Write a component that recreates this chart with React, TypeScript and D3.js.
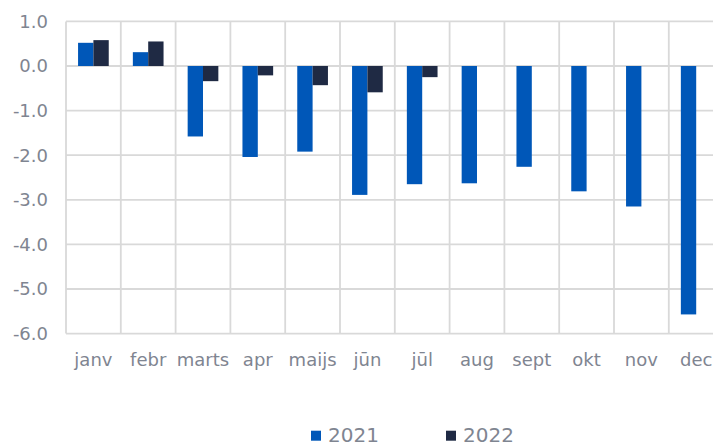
import * as d3 from "d3";

const months = ["janv", "febr", "marts", "apr", "maijs", "jūn", "jūl", "aug", "sept", "okt", "nov", "dec"];
const years = ["2021", "2022"];
const values2021 = [0.52, 0.31, -1.58, -2.04, -1.92, -2.89, -2.65, -2.63, -2.26, -2.81, -3.15, -5.57];
const values2022: (number | null)[] = [0.58, 0.55, -0.34, -0.21, -0.43, -0.59, -0.25, null, null, null, null, null];
const yTicks = [1, 0, -1, -2, -3, -4, -5, -6];

const COLORS: Record<string, string> = { "2021": "#0057b8", "2022": "#1f2a44" };
const TEXT = "#7f8591";
const GRID = "#d9d9d9";
const FONT = "'DejaVu Sans', Verdana, sans-serif";

const W = 713;
const H = 446;
const PLOT = { left: 66, top: 21.4, bottom: 333.6, band: 54.8 };

export default function App() {
  const x = d3
    .scaleBand<string>()
    .domain(months)
    .range([PLOT.left, PLOT.left + PLOT.band * months.length]);

  // the two bars of a month take ~56% of its band, centred
  const groupW = x.bandwidth() * 0.56;
  const xSub = d3
    .scaleBand<string>()
    .domain(years)
    .range([(x.bandwidth() - groupW) / 2, (x.bandwidth() + groupW) / 2]);

  const y = d3.scaleLinear().domain([-6, 1]).range([PLOT.bottom, PLOT.top]);

  const rows = months.map((m, i) => ({ m, v: { "2021": values2021[i], "2022": values2022[i] } as Record<string, number | null> }));

  return (
    <svg width={W} height={H} style={{ position: "absolute", left: 0, top: 0 }} fontFamily={FONT}>
      {/* grid */}
      {yTicks.map((t) => (
        <line key={"h" + t} x1={PLOT.left} x2={W + 20} y1={y(t)} y2={y(t)} stroke={GRID} strokeWidth={1.8} />
      ))}
      {[...months.map((m) => x(m)!), PLOT.left + PLOT.band * months.length].map((gx, i) => (
        <line key={"v" + i} x1={gx} x2={gx} y1={y(1)} y2={y(-6)} stroke={GRID} strokeWidth={1.8} />
      ))}

      {/* bars */}
      {rows.map((r) => (
        <g key={r.m} transform={`translate(${x(r.m)},0)`}>
          {years.map((yr) => {
            const v = r.v[yr];
            if (v == null) return null;
            return (
              <rect
                key={yr}
                x={xSub(yr)}
                width={xSub.bandwidth()}
                y={Math.min(y(v), y(0))}
                height={Math.abs(y(v) - y(0))}
                fill={COLORS[yr]}
              />
            );
          })}
        </g>
      ))}

      {/* y labels */}
      {yTicks.map((t) => (
        <text key={"yl" + t} x={48} y={y(t)} dy="0.36em" textAnchor="end" fontSize={18} fill={TEXT}>
          {t.toFixed(1)}
        </text>
      ))}

      {/* x labels */}
      {months.map((m) => (
        <text key={"xl" + m} x={x(m)! + x.bandwidth() / 2} y={366} textAnchor="middle" fontSize={18} fill={TEXT}>
          {m}
        </text>
      ))}

      {/* legend */}
      {years.map((yr, i) => (
        <g key={"lg" + yr} transform={`translate(${311 + i * 135},0)`}>
          <rect x={0} y={430.7} width={10} height={10} fill={COLORS[yr]} />
          <text x={17} y={442} fontSize={20} fill={TEXT}>
            {yr}
          </text>
        </g>
      ))}
    </svg>
  );
}
